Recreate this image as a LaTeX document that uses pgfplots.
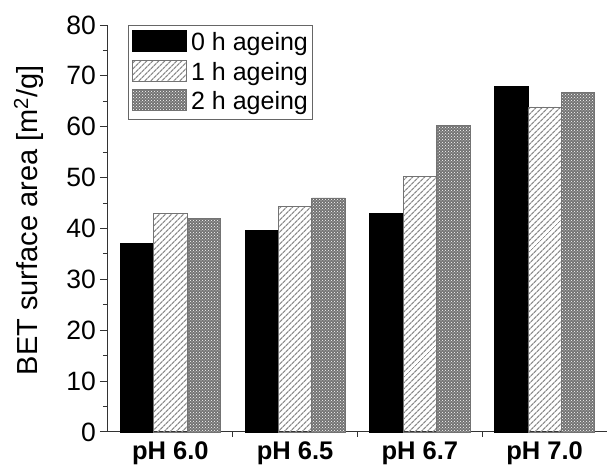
\documentclass[border=0pt]{standalone}
\usepackage{fontspec}
\setmainfont{Liberation Sans}
\usepackage{pgfplots}
\pgfplotsset{compat=1.18}
\usetikzlibrary{patterns,patterns.meta}
\begin{document}
\begin{tikzpicture}
\begin{axis}[
  scale only axis,
  width=499pt, height=407pt,
  xmin=0.5, xmax=4.5, ymin=0, ymax=80,
  axis x line*=bottom, axis y line*=left,
  axis line style={-, line width=1pt, black!80},
  every outer x axis line/.append style={-},
  every outer y axis line/.append style={-},
  ybar=0pt, bar width=33.4pt,
  xtick={1,2,3,4},
  xticklabels={pH 6.0,pH 6.5,pH 6.7,pH 7.0},
  minor xtick={1.5,2.5,3.5},
  ytick={0,10,...,80},
  minor y tick num=1,
  tick align=outside,
  major tick length=8pt, minor tick length=5pt,
  x tick style={draw=none},
  minor x tick style={draw=black!80, line width=1pt},
  y tick style={draw=black!80, line width=1pt},
  /pgf/number format/assume math mode=true,
  yticklabel style={font=\fontsize{26.5}{26.5}\selectfont, inner sep=0pt, xshift=-4pt},
  xticklabel style={font=\fontsize{25.5}{25.5}\selectfont\bfseries, inner sep=0pt, yshift=-1.5pt},
  ylabel={BET surface area [m$^\mathrm{2}$/g]},
  every axis y label/.style={at={(rel axis cs:-0.159,0.52)}, rotate=90, anchor=center, font=\fontsize{29}{29}\selectfont},
  legend style={at={(0.040,1.0)}, anchor=north west, draw=black!60, line width=0.8pt,
    font=\fontsize{25}{25}\selectfont, inner xsep=4pt, inner ysep=5pt, row sep=4pt,
    nodes={inner sep=0pt, text depth=5pt, text height=18pt},
    /tikz/every odd column/.append style={column sep=4pt}},
  legend cell align=left,
  legend image code/.code={\draw[#1] (0pt,-7.5pt) rectangle (54pt,13.5pt);},
  clip=false,
]
\addplot[fill=black, draw=black, line width=0.8pt] coordinates {(1,37.1) (2,39.7) (3,43.0) (4,68.0)};
\addplot[draw=black!55, line width=0.8pt, pattern={Lines[angle=45,distance=4pt,line width=1.3pt]}, pattern color=black!45] coordinates {(1,43.0) (2,44.4) (3,50.3) (4,63.9)};
\addplot[draw=black!55, line width=0.8pt, preaction={fill=black!55}, pattern=crosshatch dots, pattern color=white] coordinates {(1,42.0) (2,46.0) (3,60.3) (4,66.8)};
\legend{0 h ageing,1 h ageing,2 h ageing}
\end{axis}
\path (current axis.south west) ++(-108pt,-32pt) coordinate (bl);
\path (current axis.north east) ++(1pt,25pt) coordinate (tr);
\path (bl) rectangle (tr);
\end{tikzpicture}
\end{document}
